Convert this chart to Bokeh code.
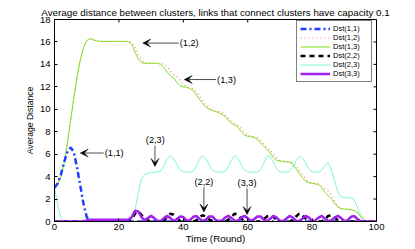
import math
from bokeh.plotting import figure
from bokeh.models import (ColumnDataSource, Legend, LegendItem, Arrow, VeeHead,
                          Range1d, FixedTicker)
from bokeh.core.properties import value
from bokeh.embed import file_html
from bokeh.resources import INLINE

FONT = "Liberation Sans"
TITLE = "Average distance between clusters, links that connect clusters have capacity 0.1"

rounds = list(range(101))
x_ticks = [0, 20, 40, 60, 80, 100]
y_ticks = [0, 2, 4, 6, 8, 10, 12, 14, 16, 18]

dst_11 = [3.0, 3.4, 4.2, 5.3, 6.2, 6.6, 6.2, 4.8, 3.2, 1.6,
          0.4, 0.05, 0, 0, 0, 0, 0, 0, 0, 0,
          0, 0, 0, 0, 0, 0, 0, 0, 0, 0,
          0, 0, 0, 0, 0, 0, 0, 0, 0, 0,
          0, 0, 0, 0, 0, 0, 0, 0, 0, 0,
          0, 0, 0, 0, 0, 0, 0, 0, 0, 0,
          0, 0, 0, 0, 0, 0, 0, 0, 0, 0,
          0, 0, 0, 0, 0, 0, 0, 0, 0, 0,
          0, 0, 0, 0, 0, 0, 0, 0, 0, 0,
          0, 0, 0, 0, 0, 0, 0, 0, 0, 0,
          0]

dst_12 = [3.0, 3.3, 4.0, 5.2, 7.0, 9.0, 11.0, 12.9, 14.4, 15.5,
          16.1, 16.3, 16.2, 16.1, 16.05, 16.05, 16.05, 16.05, 16.05, 16.05,
          16.05, 16.05, 16.05, 16.05, 16.0, 15.6, 14.9, 14.4, 14.15, 14.1,
          14.1, 14.1, 14.1, 14.1, 14.0, 13.8, 13.4, 13.1, 12.9, 12.6,
          12.2, 12.05, 11.95, 11.85, 11.6, 11.2, 10.8, 10.4, 10.1, 10.0,
          9.9, 9.8, 9.7, 9.5, 9.2, 8.9, 8.7, 8.55, 8.3, 7.95,
          7.7, 7.6, 7.55, 7.45, 7.2, 6.9, 6.6, 6.35, 6.0, 5.65,
          5.45, 5.4, 5.35, 5.3, 5.25, 5.0, 4.6, 4.2, 3.8, 3.55,
          3.45, 3.4, 3.35, 3.2, 2.9, 2.75, 2.4, 1.8, 1.3, 1.1,
          1.1, 1.05, 1.0, 0.95, 0.8, 0.5, 0.25, 0.05, 0, 0,
          0]

dst_13 = [3.0, 3.3, 4.0, 5.2, 7.0, 9.0, 11.0, 12.9, 14.4, 15.5,
          16.1, 16.3, 16.2, 16.1, 16.05, 16.05, 16.05, 16.05, 16.05, 16.05,
          16.05, 16.05, 16.05, 16.0, 15.8, 15.1, 14.5, 14.15, 14.1, 14.1,
          14.1, 14.1, 14.1, 14.0, 13.7, 13.3, 13.0, 12.8, 12.4, 12.1,
          12.0, 11.95, 11.85, 11.7, 11.3, 10.9, 10.5, 10.2, 10.0, 9.9,
          9.8, 9.7, 9.55, 9.35, 9.0, 8.75, 8.6, 8.4, 8.0, 7.7,
          7.6, 7.55, 7.5, 7.3, 7.0, 6.7, 6.4, 6.1, 5.7, 5.45,
          5.4, 5.35, 5.3, 5.3, 5.1, 4.7, 4.3, 3.9, 3.6, 3.45,
          3.4, 3.35, 3.3, 3.0, 2.6, 2.3, 2.0, 1.6, 1.3, 1.15,
          1.1, 1.1, 1.05, 1.0, 0.8, 0.45, 0.15, 0, 0, 0,
          0]

dst_22 = [0, 0, 0, 0, 0, 0, 0, 0, 0, 0,
          0, 0, 0, 0, 0, 0, 0, 0, 0, 0,
          0, 0, 0, 0, 0.2, 0.7, 0.9, 0.6, 0.3, 0.1,
          0, 0, 0, 0, 0.1, 0.4, 0.7, 0.6, 0.3, 0.05,
          0, 0, 0, 0, 0.1, 0.4, 0.55, 0.45, 0.2, 0.05,
          0, 0, 0, 0, 0.15, 0.45, 0.7, 0.55, 0.25, 0.05,
          0, 0, 0, 0, 0, 0.2, 0.45, 0.55, 0.4, 0.15,
          0, 0, 0, 0, 0.15, 0.45, 0.7, 0.55, 0.25, 0.05,
          0, 0, 0, 0, 0.2, 0.5, 0.55, 0.35, 0.1, 0,
          0, 0, 0, 0, 0, 0, 0, 0, 0, 0,
          0]

dst_23 = [3.0, 1.5, 0.3, 0, 0, 0, 0, 0, 0, 0,
          0, 0, 0, 0, 0, 0, 0, 0, 0, 0,
          0, 0, 0, 0, 0.1, 1.0, 2.5, 3.8, 4.2, 4.3,
          4.35, 4.4, 4.4, 4.5, 5.0, 5.6, 5.9, 5.6, 5.1, 4.6,
          4.4, 4.4, 4.4, 4.45, 4.9, 5.5, 5.9, 5.6, 5.1, 4.6,
          4.4, 4.4, 4.4, 4.45, 4.9, 5.5, 5.9, 5.6, 5.1, 4.6,
          4.4, 4.4, 4.4, 4.4, 4.6, 5.2, 5.8, 5.8, 5.3, 4.7,
          4.4, 4.4, 4.4, 4.45, 4.8, 5.4, 5.8, 5.7, 5.2, 4.7,
          4.4, 4.4, 4.4, 4.6, 5.0, 5.2, 4.6, 3.6, 2.6, 2.2,
          2.15, 2.1, 2.1, 2.0, 1.3, 0.6, 0.2, 0, 0, 0,
          0]

dst_33 = [0, 0, 0, 0, 0, 0, 0, 0, 0, 0,
          0.1, 0.15, 0.15, 0.15, 0.15, 0.15, 0.15, 0.15, 0.15, 0.15,
          0.15, 0.15, 0.15, 0.15, 0.4, 0.95, 0.9, 0.4, 0.1, 0.3,
          0.5, 0.3, 0.05, 0.05, 0.3, 0.5, 0.3, 0.05, 0.2, 0.45,
          0.4, 0.1, 0.1, 0.4, 0.5, 0.25, 0.05, 0.15, 0.45, 0.45,
          0.15, 0.05, 0.1, 0.35, 0.5, 0.3, 0.05, 0.1, 0.35, 0.5,
          0.3, 0.05, 0.2, 0.45, 0.45, 0.15, 0.05, 0.25, 0.5, 0.35,
          0.05, 0.05, 0.25, 0.5, 0.35, 0.05, 0.05, 0.25, 0.5, 0.35,
          0.05, 0.1, 0.35, 0.5, 0.25, 0.05, 0.1, 0.35, 0.5, 0.3,
          0.05, 0.1, 0.4, 0.5, 0.25, 0.05, 0, 0, 0, 0,
          0]

# annotations: arrows and their labels
arrow_x0 = [38.6, 50.2, 15.3, 31.2, 46.4, 59.8]
arrow_y0 = [15.9, 12.65, 6.1, 6.75, 3.05, 2.95]
arrow_x1 = [27.4, 40.3, 8.0, 31.2, 46.4, 59.8]
arrow_y1 = [15.9, 12.65, 6.1, 4.9, 0.85, 0.62]
side_labels = ["(1,2)", "(1,3)", "(1,1)"]
side_x = [38.9, 50.5, 15.6]
side_y = [15.9, 12.65, 6.1]
top_labels = ["(2,3)", "(2,2)", "(3,3)"]
top_x = [31.3, 46.4, 59.8]
top_y = [7.3, 3.55, 3.45]

src = ColumnDataSource(dict(x=rounds, d11=dst_11, d12=dst_12, d13=dst_13,
                            d22=dst_22, d23=dst_23, d33=dst_33))

p = figure(width=415, height=249, output_backend="svg", toolbar_location=None,
           x_range=Range1d(0, 100), y_range=Range1d(0, 18),
           min_border_left=54, min_border_right=39, min_border_top=19,
           min_border_bottom=28, title=TITLE)
p.title.text_font = FONT
p.title.text_font_size = "9.8px"
p.title.text_font_style = "normal"
p.title.align = "center"
p.title.text_color = "black"
try:
    p.title.standoff = 4
except Exception:
    pass

p.xgrid.visible = False
p.ygrid.visible = False
p.outline_line_color = "black"
p.outline_line_alpha = 1
p.background_fill_color = "white"
p.border_fill_color = "white"

for ax in (p.xaxis[0], p.yaxis[0]):
    ax.major_tick_in = 3
    ax.major_tick_out = 0
    ax.minor_tick_line_color = None
    ax.axis_line_color = "black"
    ax.major_tick_line_color = "black"
    ax.major_label_text_font = FONT
    ax.major_label_text_font_size = "9.5px"
    ax.major_label_text_color = "black"
    ax.axis_label_text_font = FONT
    ax.axis_label_text_font_style = "normal"
    ax.axis_label_text_color = "black"

p.xaxis.ticker = FixedTicker(ticks=x_ticks)
p.yaxis.ticker = FixedTicker(ticks=y_ticks)
p.xaxis.axis_label = "Time (Round)"
p.yaxis.axis_label = "Average Distance"
p.xaxis.axis_label_text_font_size = "9.8px"
p.yaxis.axis_label_text_font_size = "8.6px"
p.xaxis.major_label_standoff = 2
p.xaxis.axis_label_standoff = 0
p.yaxis.major_label_standoff = 4
p.yaxis.axis_label_standoff = 2

# box ticks on the top and right edges (inner halves of dash markers; outer halves are clipped)
p.scatter(x=x_ticks, y=[18] * len(x_ticks), marker="dash", size=6, angle=math.pi / 2,
          line_color="black", line_width=1)
p.scatter(x=[100] * len(y_ticks), y=y_ticks, marker="dash", size=6,
          line_color="black", line_width=1)

r12 = p.line("x", "d12", source=src, line_color="#ff7f7f", line_width=1.2, line_dash="1 3")
r13 = p.line("x", "d13", source=src, line_color="#7fe020", line_width=1)
r23 = p.line("x", "d23", source=src, line_color="#7ff5d8", line_width=1)
r11 = p.line("x", "d11", source=src, line_color="#1f3fff", line_width=2.5, line_dash="6 3 2 3")
r22 = p.line("x", "d22", source=src, line_color="black", line_width=2.5, line_dash="5 4")
r33 = p.line("x", "d33", source=src, line_color="#a020f0", line_width=2.5)

arrow_src = ColumnDataSource(dict(x0=arrow_x0, y0=arrow_y0, x1=arrow_x1, y1=arrow_y1))
p.add_layout(Arrow(end=VeeHead(size=8, fill_color="black", line_color="black", line_width=0.5),
                   source=arrow_src, x_start="x0", y_start="y0", x_end="x1", y_end="y1",
                   line_color="#222222", line_width=0.8))

p.text(x=side_x, y=side_y, text=side_labels, text_font=value(FONT), text_font_size="9.2px",
       text_align="left", text_baseline="middle", text_color="black")
p.text(x=top_x, y=top_y, text=top_labels, text_font=value(FONT), text_font_size="9.2px",
       text_align="center", text_baseline="middle", text_color="black")

legend = Legend(items=[
    LegendItem(label="Dst(1,1)", renderers=[r11]),
    LegendItem(label="Dst(1,2)", renderers=[r12]),
    LegendItem(label="Dst(1,3)", renderers=[r13]),
    LegendItem(label="Dst(2,2)", renderers=[r22]),
    LegendItem(label="Dst(2,3)", renderers=[r23]),
    LegendItem(label="Dst(3,3)", renderers=[r33]),
], location=(242, 139))
legend.label_text_font = FONT
legend.label_text_font_size = "7.5px"
legend.label_text_color = "black"
legend.glyph_width = 30
legend.glyph_height = 9
legend.label_height = 9
legend.label_width = 35
legend.label_standoff = 3
legend.spacing = 0
legend.padding = 3
legend.margin = 0
legend.border_line_color = "black"
legend.border_line_width = 1
legend.background_fill_color = "white"
legend.background_fill_alpha = 1
p.add_layout(legend)

open("out.html", "w").write(file_html(p, INLINE))
